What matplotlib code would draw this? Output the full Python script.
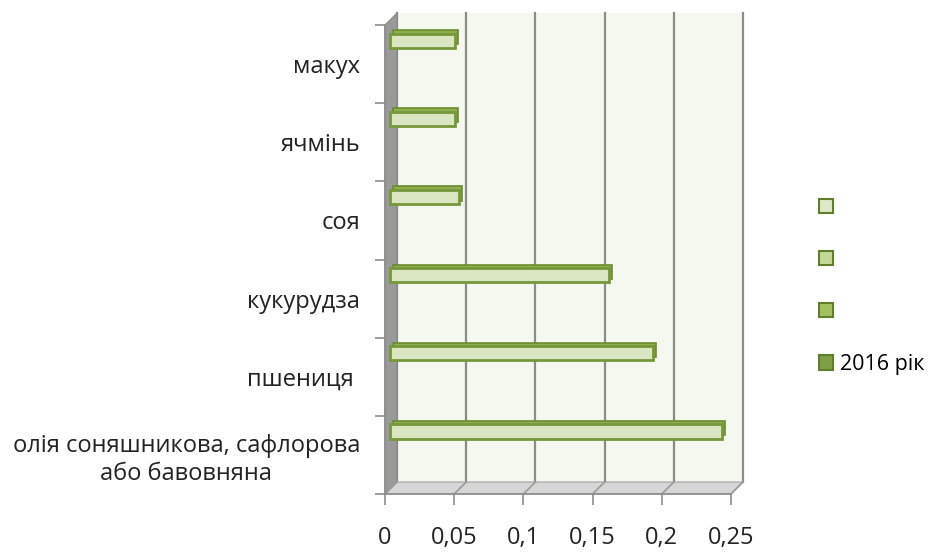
import matplotlib
matplotlib.use("Agg")
import matplotlib.pyplot as plt
from matplotlib.patches import Polygon, Rectangle, Patch
from matplotlib.transforms import ScaledTranslation

plt.rcParams['font.family'] = ['Open Sans', 'DejaVu Sans']

# ---- data ----
categories = ["олія соняшникова, сафлорова\nабо бавовняна", "пшениця ", "кукурудза",
              "соя", "ячмінь", "макух"]
values_2016 = [0.24, 0.19, 0.158, 0.05, 0.047, 0.047]
legend_labels = ["", "", "", "2016 рік"]
xticks = [0, 0.05, 0.1, 0.15, 0.2, 0.25]
xtick_labels = ["0", "0,05", "0,1", "0,15", "0,2", "0,25"]

W, H = 941, 553
AX_W, AX_H = 346, 469
fig = plt.figure(figsize=(W / 100, H / 100), dpi=100)
ax = fig.add_axes([385 / W, 59 / H, AX_W / W, AX_H / H])
n = len(categories)
ax.set_xlim(0, 0.25)
ax.set_ylim(-0.5, n - 0.5)
ax.patch.set_visible(False)

depth_px = 12
dx = depth_px / AX_W
dy = depth_px / AX_H
off = ScaledTranslation(depth_px / 100, depth_px / 100, fig.dpi_scale_trans)

# back wall
ax.add_patch(Rectangle((0, 0), 1, 1, transform=ax.transAxes + off,
                       facecolor="#f4f8ee", edgecolor="none", zorder=0, clip_on=False))
# side wall
ax.add_patch(Polygon([(0, 0), (dx, dy), (dx, 1 + dy), (0, 1)], closed=True,
                     transform=ax.transAxes, facecolor="#9a9a9a", edgecolor="#888888",
                     lw=0.8, zorder=1, clip_on=False))
# floor
ax.add_patch(Polygon([(0, 0), (1, 0), (1 + dx, dy), (dx, dy)], closed=True,
                     transform=ax.transAxes, facecolor="#d6d6d6", edgecolor="#a0a0a0",
                     lw=0.8, zorder=1, clip_on=False))
# back-wall gridlines
for v in xticks:
    ax.plot([v, v], [-0.5, n - 0.5], transform=ax.transData + off, color="#8c8c8c",
            lw=1.6, zorder=0.5, clip_on=False)
# floor ticks
for v in xticks:
    x0 = ax.transLimits.transform((v, -0.5))[0]
    ax.plot([x0, x0 + dx], [0, dy], transform=ax.transAxes, color="#9a9a9a",
            lw=1.2, zorder=1.2, clip_on=False)

# bars with a slight 3D look
ypos = [i + 0.3 for i in range(n)]
bar_shift = ScaledTranslation(0.05, 0, fig.dpi_scale_trans)
depth_bar = ScaledTranslation(0.08, 0.035, fig.dpi_scale_trans)
ax.barh(ypos, values_2016, height=0.18, color="#8fae4e", edgecolor="#6b8a2e", lw=1.2,
        transform=ax.transData + depth_bar, zorder=3, clip_on=False)
ax.barh(ypos, values_2016, height=0.18, color="#d9e6c1", edgecolor="#76983a", lw=2,
        transform=ax.transData + bar_shift, zorder=4, clip_on=False)

# axes, ticks
for s in ["top", "right"]:
    ax.spines[s].set_visible(False)
for s in ["left", "bottom"]:
    ax.spines[s].set_color("#8c8c8c")
    ax.spines[s].set_linewidth(1.2)
    ax.spines[s].set_zorder(2)
ax.set_xticks(xticks)
ax.set_xticklabels(xtick_labels, fontsize=17, color="#222222")
ax.tick_params(axis="x", length=8, width=1.2, color="#8c8c8c", pad=15)
ax.set_yticks([i - 0.5 for i in range(n + 1)])
ax.set_yticklabels([])
ax.tick_params(axis="y", which="major", length=7, width=1.2, color="#8c8c8c")
ax.set_yticks(list(range(n)), minor=True)
ax.set_yticklabels(categories, minor=True, fontsize=17, color="#222222",
                   ha="right", multialignment="center", linespacing=1.25)
ax.tick_params(axis="y", which="minor", length=0, pad=18)

# legend
leg_colors = ["#dde8c8", "#c4d89a", "#a3c060", "#7f9f45"]
handles = [Patch(facecolor=c, edgecolor="#5f7f2a", lw=1.5) for c in leg_colors]
fig.legend(handles, legend_labels, loc="upper left", bbox_to_anchor=(800 / W, 1 - 178 / H),
           frameon=False, fontsize=15.5, handlelength=0.65, handleheight=0.65,
           handletextpad=0.3, labelspacing=1.45)

fig.savefig("out.png", dpi=100)
